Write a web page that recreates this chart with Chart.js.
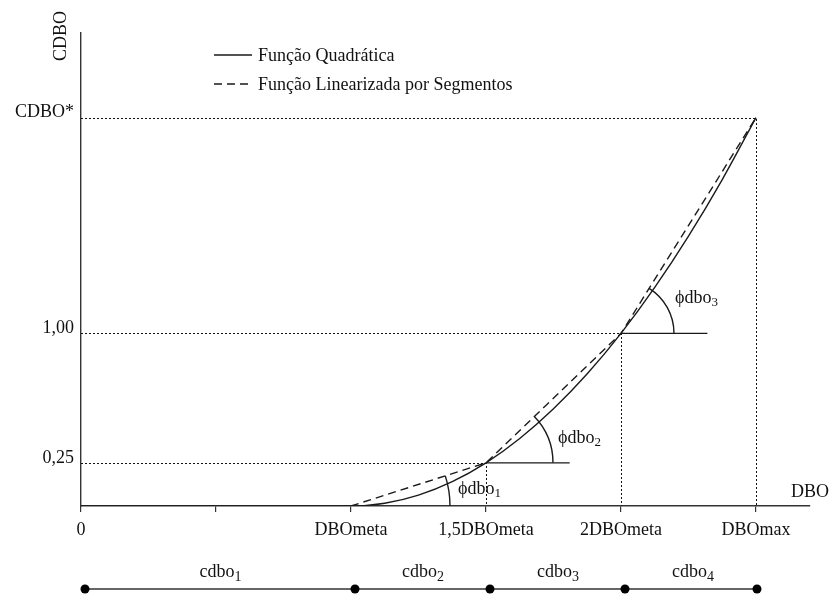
<!DOCTYPE html>
<html>
<head>
<meta charset="utf-8">
<script src="https://cdn.jsdelivr.net/npm/chart.js@4.4.1/dist/chart.umd.min.js"></script>
<style>
    html, body { margin: 0; padding: 0; background: #fff; }
    #wrap { width: 832px; height: 597px; }
</style>
</head>
<body>
<div id="wrap"><canvas id="grafico" width="832" height="597"></canvas></div>
<script>
// valores em múltiplos de DBOmeta
const xTicks = [0, 0.5, 1, 1.5, 2, 2.5];
const xTickLabels = ['0', '', 'DBOmeta', '1,5DBOmeta', '2DBOmeta', 'DBOmax'];
const yTicks = [0.25, 1, 2.25];
const yTickLabels = ['0,25', '1,00', 'CDBO*'];

// curva quadrática
const quadX = [0, 1, 1.125, 1.25, 1.375, 1.5, 1.625, 1.75, 1.875, 2, 2.125, 2.25, 2.375, 2.5];
const quadY = [0, 0, 0.016, 0.063, 0.141, 0.25, 0.391, 0.563, 0.766, 1, 1.266, 1.563, 1.891, 2.25];

// função linearizada por segmentos
const segX = [1, 1.5, 2, 2.5];
const segY = [0, 0.25, 1, 2.25];

const anguloLabels = ['dbo', 'dbo', 'dbo'];
const coefLabels = ['cdbo', 'cdbo', 'cdbo', 'cdbo'];
const coefLimites = [0, 1, 1.5, 2, 2.5];

const serif = '"Liberation Serif", "Times New Roman", serif';
const cor = '#1a1a1a';
const fonte = 18;

const desenhos = {
    id: 'desenhos',
    afterDatasetsDraw(chart) {
        const ctx = chart.ctx;
        const xs = chart.scales.x, ys = chart.scales.y;
        const px = v => xs.getPixelForValue(v);
        const py = v => ys.getPixelForValue(v);
        const snap = v => Math.round(v) + 0.5;

        ctx.save();
        // linhas pontilhadas de referência
        ctx.strokeStyle = '#111';
        ctx.lineWidth = 1;
        ctx.setLineDash([2, 2]);
        for (let i = 1; i < segX.length; i++) {
            const gx = snap(px(segX[i])), gy = snap(py(segY[i]));
            ctx.beginPath();
            ctx.moveTo(px(0), gy);
            ctx.lineTo(gx, gy);
            ctx.lineTo(gx, py(0));
            ctx.stroke();
        }
        ctx.setLineDash([]);

        // linhas horizontais e arcos dos ângulos
        const fimHoriz = [1.81, 2.32];
        const raios = [99, 67, 53];
        ctx.strokeStyle = cor;
        ctx.lineWidth = 1.4;
        for (let i = 0; i < 3; i++) {
            const cx = px(segX[i]), cy = py(segY[i]);
            if (i > 0) {
                ctx.beginPath();
                ctx.moveTo(cx, cy);
                ctx.lineTo(px(fimHoriz[i - 1]), cy);
                ctx.stroke();
            }
            const dx = px(segX[i + 1]) - cx, dy = py(segY[i + 1]) - cy;
            const ang = Math.atan2(dy, dx);
            ctx.beginPath();
            ctx.arc(cx, cy, raios[i], ang, 0);
            ctx.stroke();
        }

        // rótulos dos ângulos
        const posAng = [[458, 489], [558, 438], [675, 298]];
        ctx.fillStyle = '#111';
        ctx.textBaseline = 'middle';
        ctx.textAlign = 'left';
        posAng.forEach((p, i) => {
            ctx.font = fonte + 'px ' + serif;
            const t = '\u03d5' + anguloLabels[i];
            ctx.fillText(t, p[0], p[1]);
            const w = ctx.measureText(t).width;
            ctx.font = '13px ' + serif;
            ctx.fillText(String(i + 1), p[0] + w, p[1] + 5);
        });

        // legenda
        chart.data.datasets.forEach((ds, i) => {
            const ly = 55 + i * 29;
            ctx.strokeStyle = cor;
            ctx.lineWidth = 1.4;
            ctx.setLineDash(ds.borderDash || []);
            ctx.beginPath();
            ctx.moveTo(214, ly);
            ctx.lineTo(252, ly);
            ctx.stroke();
            ctx.setLineDash([]);
            ctx.font = fonte + 'px ' + serif;
            ctx.fillText(ds.label, 258, ly + 1);
        });

        // títulos dos eixos
        ctx.font = fonte + 'px ' + serif;
        ctx.textAlign = 'left';
        ctx.fillText('DBO', 791, 492);
        ctx.save();
        ctx.translate(61, 36);
        ctx.rotate(-Math.PI / 2);
        ctx.textAlign = 'center';
        ctx.fillText('CDBO', 0, 0);
        ctx.restore();

        // barra dos coeficientes
        const by = 589;
        ctx.strokeStyle = '#333';
        ctx.lineWidth = 1.4;
        ctx.beginPath();
        ctx.moveTo(px(coefLimites[0]) + 4, by);
        ctx.lineTo(px(coefLimites[coefLimites.length - 1]) + 1, by);
        ctx.stroke();
        ctx.fillStyle = '#000';
        coefLimites.forEach((v, i) => {
            const off = i === coefLimites.length - 1 ? 1 : 4;
            ctx.beginPath();
            ctx.arc(px(v) + off, by, 4.5, 0, Math.PI * 2);
            ctx.fill();
        });
        ctx.textAlign = 'left';
        coefLabels.forEach((t, i) => {
            const mid = (px(coefLimites[i]) + px(coefLimites[i + 1])) / 2 + 6;
            ctx.font = fonte + 'px ' + serif;
            const w = ctx.measureText(t).width;
            ctx.fillStyle = '#111';
            ctx.fillText(t, mid - w / 2 - 5, 572);
            ctx.font = '14px ' + serif;
            ctx.fillText(String(i + 1), mid + w / 2 - 5, 577);
        });
        ctx.restore();
    }
};

const ctx = document.getElementById('grafico').getContext('2d');
new Chart(ctx, {
    type: 'line',
    data: {
        datasets: [{
            label: 'Função Quadrática',
            data: quadX.map((x, i) => ({ x: x, y: quadY[i] })),
            borderColor: cor,
            borderWidth: 1.4,
            pointRadius: 0,
            cubicInterpolationMode: 'monotone',
            fill: false
        }, {
            label: 'Função Linearizada por Segmentos',
            data: segX.map((x, i) => ({ x: x, y: segY[i] })),
            borderColor: cor,
            borderWidth: 1.4,
            borderDash: [8, 5],
            pointRadius: 0,
            tension: 0,
            fill: false
        }]
    },
    options: {
        responsive: false,
        animation: false,
        layout: { padding: { top: 33, right: 22, left: 0, bottom: 0 } },
        plugins: { legend: { display: false }, tooltip: { enabled: false } },
        scales: {
            x: {
                type: 'linear',
                min: 0,
                max: 2.7,
                afterFit: s => { s.height = 91; },
                afterBuildTicks: s => { s.ticks = xTicks.map(v => ({ value: v })); },
                ticks: {
                    autoSkip: false,
                    maxRotation: 0,
                    padding: 7,
                    color: '#111',
                    font: { family: serif, size: fonte },
                    callback: (v, i) => xTickLabels[i]
                },
                grid: { drawOnChartArea: false, tickLength: 6, color: '#333', lineWidth: 1.2 },
                border: { color: '#333', width: 1.4 }
            },
            y: {
                type: 'linear',
                min: 0,
                max: 2.74,
                afterFit: s => { s.width = 81; },
                afterBuildTicks: s => { s.ticks = yTicks.map(v => ({ value: v })); },
                ticks: {
                    autoSkip: false,
                    padding: 7,
                    labelOffset: -5,
                    color: '#111',
                    font: { family: serif, size: fonte },
                    callback: (v, i) => yTickLabels[i]
                },
                grid: { display: false, drawTicks: false },
                border: { color: '#333', width: 1.4 }
            }
        }
    },
    plugins: [desenhos]
});
</script>
</body>
</html>
